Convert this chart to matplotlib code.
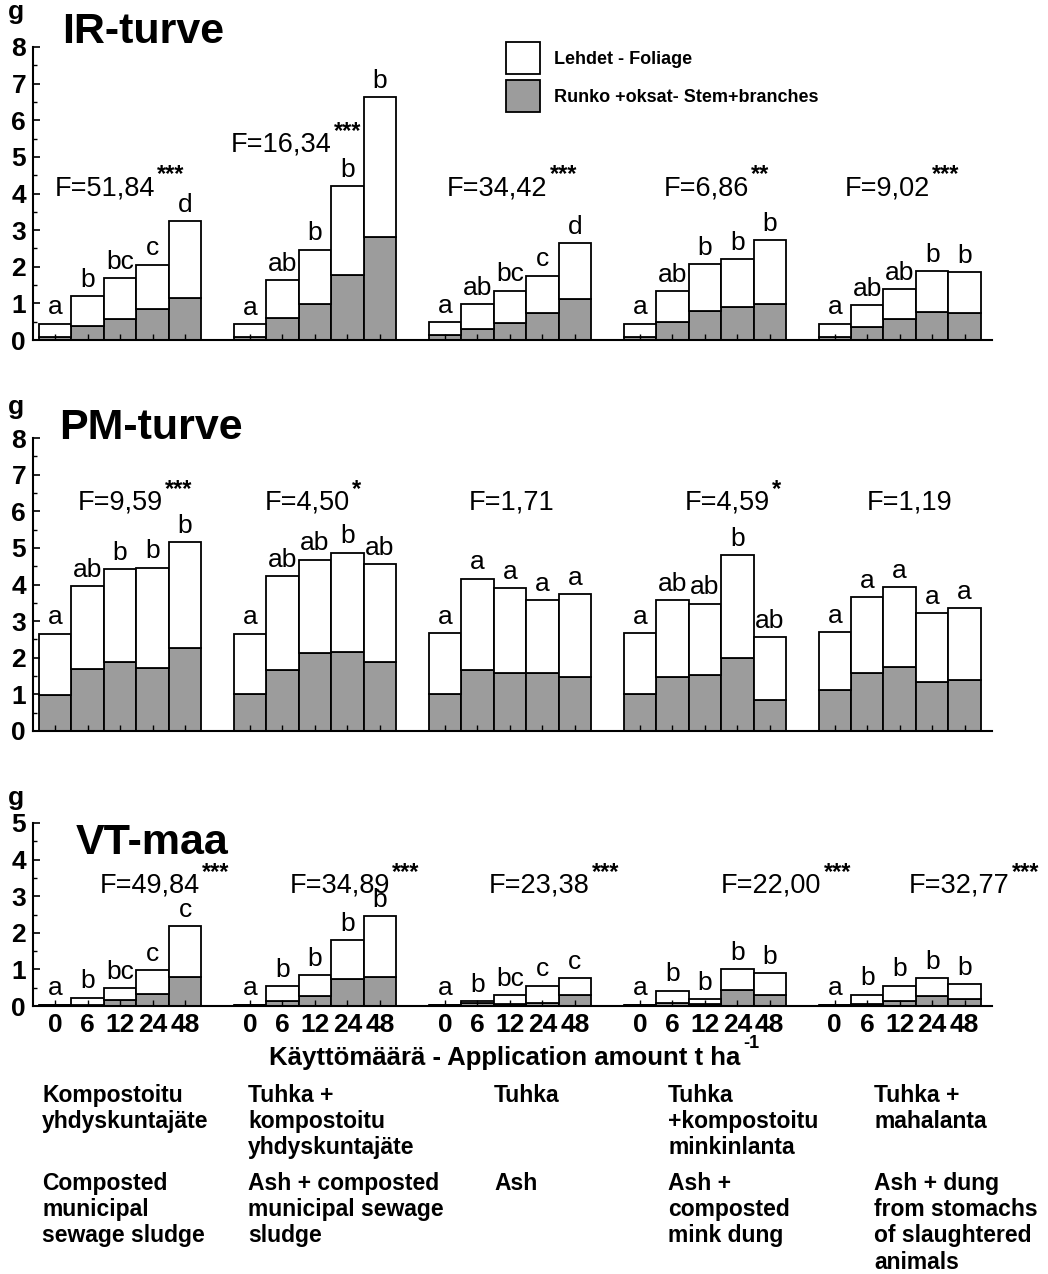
import matplotlib.pyplot as plt
from matplotlib.patches import Patch
from matplotlib.ticker import MultipleLocator

plt.rcParams['font.family'] = ['Liberation Sans', 'DejaVu Sans']

doses = ['0', '6', '12', '24', '48']

# total dry mass (foliage + stem) and stem part, g, per treatment group x dose
ir_total = [[0.45, 1.20, 1.69, 2.06, 3.25],
            [0.44, 1.64, 2.47, 4.21, 6.64],
            [0.48, 0.98, 1.35, 1.76, 2.64],
            [0.45, 1.34, 2.07, 2.20, 2.73],
            [0.45, 0.96, 1.38, 1.89, 1.86]]
ir_stem = [[0.08, 0.38, 0.57, 0.85, 1.14],
           [0.09, 0.59, 0.97, 1.77, 2.82],
           [0.14, 0.29, 0.47, 0.75, 1.12],
           [0.09, 0.50, 0.80, 0.91, 0.98],
           [0.09, 0.35, 0.57, 0.77, 0.75]]
ir_letters = [['a', 'b', 'bc', 'c', 'd'],
              ['a', 'ab', 'b', 'b', 'b'],
              ['a', 'ab', 'bc', 'c', 'd'],
              ['a', 'ab', 'b', 'b', 'b'],
              ['a', 'ab', 'ab', 'b', 'b']]
ir_f = ['51,84', '16,34', '34,42', '6,86', '9,02']
ir_sig = ['***', '***', '***', '**', '***']

pm_total = [[2.66, 3.95, 4.41, 4.46, 5.16],
            [2.66, 4.23, 4.68, 4.87, 4.55],
            [2.68, 4.16, 3.91, 3.57, 3.73],
            [2.68, 3.57, 3.48, 4.81, 2.57],
            [2.70, 3.66, 3.93, 3.22, 3.36]]
pm_stem = [[0.99, 1.68, 1.88, 1.73, 2.27],
           [1.01, 1.67, 2.14, 2.16, 1.88],
           [1.01, 1.67, 1.58, 1.57, 1.47],
           [1.01, 1.47, 1.52, 1.99, 0.86],
           [1.11, 1.58, 1.75, 1.34, 1.40]]
pm_letters = [['a', 'ab', 'b', 'b', 'b'],
              ['a', 'ab', 'ab', 'b', 'ab'],
              ['a', 'a', 'a', 'a', 'a'],
              ['a', 'ab', 'ab', 'b', 'ab'],
              ['a', 'a', 'a', 'a', 'a']]
pm_f = ['9,59', '4,50', '1,71', '4,59', '1,19']
pm_sig = ['***', '*', '', '*', '']

vt_total = [[0.04, 0.23, 0.50, 0.98, 2.18],
            [0.04, 0.55, 0.85, 1.79, 2.46],
            [0.04, 0.14, 0.30, 0.56, 0.77],
            [0.04, 0.42, 0.18, 1.02, 0.89],
            [0.04, 0.31, 0.56, 0.77, 0.61]]
vt_stem = [[0.02, 0.03, 0.16, 0.32, 0.80],
           [0.02, 0.15, 0.27, 0.74, 0.80],
           [0.02, 0.07, 0.05, 0.09, 0.30],
           [0.02, 0.08, 0.06, 0.44, 0.29],
           [0.02, 0.06, 0.15, 0.26, 0.18]]
vt_letters = [['a', 'b', 'bc', 'c', 'c'],
              ['a', 'b', 'b', 'b', 'b'],
              ['a', 'b', 'bc', 'c', 'c'],
              ['a', 'b', 'b', 'b', 'b'],
              ['a', 'b', 'b', 'b', 'b']]
vt_f = ['49,84', '34,89', '23,38', '22,00', '32,77']
vt_sig = ['***', '***', '***', '***', '***']

fi_names = ['Kompostoitu\nyhdyskuntajäte', 'Tuhka +\nkompostoitu\nyhdyskuntajäte',
            'Tuhka', 'Tuhka\n+kompostoitu\nminkinlanta', 'Tuhka +\nmahalanta']
en_names = ['Composted\nmunicipal\nsewage sludge', 'Ash + composted\nmunicipal sewage\nsludge',
            'Ash', 'Ash +\ncomposted\nmink dung',
            'Ash + dung\nfrom stomachs\nof slaughtered\nanimals']

# layout (pixels of a 1048x1274 canvas)
W, H = 1048, 1274


def fx(px):
    return px / W


def fy(py):
    return 1 - py / H


panels = [
    dict(title='IR-turve', total=ir_total, stem=ir_stem, letters=ir_letters, f=ir_f, sig=ir_sig,
         top=47, bottom=340, ymax=8, title_xy=(62, 32), g_y=12,
         f_x=[3.07, 8.52, 15.16, 21.35, 26.92], f_y=[4.15, 5.33, 4.15, 4.15, 4.15]),
    dict(title='PM-turve', total=pm_total, stem=pm_stem, letters=pm_letters, f=pm_f, sig=pm_sig,
         top=438, bottom=731, ymax=8, title_xy=(59, 428), g_y=407,
         f_x=[3.32, 9.07, 15.38, 21.99, 27.62], f_y=[6.23] * 5),
    dict(title='VT-maa', total=vt_total, stem=vt_stem, letters=vt_letters, f=vt_f, sig=vt_sig,
         top=823, bottom=1006, ymax=5, title_xy=(76, 843), g_y=798,
         f_x=[4.45, 10.30, 16.45, 23.59, 29.38], f_y=[3.30] * 5),
]

stem_color = '#9c9c9c'
fig = plt.figure(figsize=(W / 100, H / 100), dpi=100)

axes = []
for p in panels:
    ax = fig.add_axes([fx(33), fy(p['bottom']), fx(992) - fx(33), (p['bottom'] - p['top']) / H])
    axes.append(ax)
    for g in range(5):
        xs = [g * 6 + k for k in range(5)]
        stem = p['stem'][g]
        fol = [t - s for t, s in zip(p['total'][g], stem)]
        ax.bar(xs, stem, width=1, color=stem_color, edgecolor='black', linewidth=1.3)
        ax.bar(xs, fol, bottom=stem, width=1, color='white', edgecolor='black', linewidth=1.3)
        for x, t, lab in zip(xs, p['total'][g], p['letters'][g]):
            ax.annotate(lab, (x, t), xytext=(0, 3), textcoords='offset points',
                        ha='center', va='bottom', fontsize=19)
        ft = ax.text(p['f_x'][g], p['f_y'][g], 'F=' + p['f'][g], ha='right', va='center',
                     fontsize=19.5)
        if p['sig'][g]:
            ax.annotate(p['sig'][g], xy=(1, 1.0), xycoords=ft, xytext=(1.5, 0),
                        textcoords='offset points', ha='left', va='center',
                        fontsize=17, fontweight='bold', annotation_clip=False)

    ax.set_xlim(-0.68, 28.84)
    ax.set_ylim(0, p['ymax'])
    ax.spines[['top', 'right']].set_visible(False)
    ax.spines[['left', 'bottom']].set_linewidth(1.5)
    ax.set_yticks(range(p['ymax'] + 1), [str(i) for i in range(p['ymax'] + 1)],
                  fontsize=19, fontweight='bold')
    ax.yaxis.set_minor_locator(MultipleLocator(0.5))
    ax.tick_params(axis='y', which='major', direction='in', length=5, width=1.2, pad=5)
    ax.tick_params(axis='y', which='minor', direction='in', length=3, width=1)
    ax.set_xticks([g * 6 + k for g in range(5) for k in range(5)])
    ax.tick_params(axis='x', direction='in', length=4, width=1)
    ax.set_xticklabels([])

    fig.text(fx(p['title_xy'][0]), fy(p['title_xy'][1]), p['title'], ha='left', va='center',
             fontsize=31, fontweight='bold')
    fig.text(fx(16), fy(p['g_y']), 'g', ha='center', va='center', fontsize=19, fontweight='bold')

axes[2].set_xticklabels(doses * 5, fontsize=19, fontweight='bold')
axes[2].tick_params(axis='x', pad=5)

axes[0].legend(handles=[Patch(facecolor='white', edgecolor='black', linewidth=1.3),
                        Patch(facecolor=stem_color, edgecolor='black', linewidth=1.3)],
               labels=['Lehdet - Foliage', 'Runko +oksat- Stem+branches'],
               loc='upper left', bbox_to_anchor=(fx(506), fy(42)), bbox_transform=fig.transFigure,
               frameon=False, borderpad=0, borderaxespad=0, handlelength=1.88, handleheight=2.35,
               handletextpad=0.77, labelspacing=0.35, prop=dict(size=13, weight='bold'))

xl = fig.text(fx(505), fy(1058), 'Käyttömäärä - Application amount t ha', ha='center',
              va='center', fontsize=18.5, fontweight='bold')
axes[2].annotate('-1', xy=(1, 0.75), xycoords=xl, xytext=(2, 0), textcoords='offset points',
                 ha='left', va='bottom', fontsize=13, fontweight='bold', annotation_clip=False)

name_x = [42, 248, 494, 668, 874]
for x, fi, en in zip(name_x, fi_names, en_names):
    fig.text(fx(x), fy(1084), fi, ha='left', va='top', fontsize=16.5, fontweight='bold',
             linespacing=1.18)
    fig.text(fx(x), fy(1172), en, ha='left', va='top', fontsize=16.5, fontweight='bold',
             linespacing=1.18)

fig.savefig('out.png', dpi=100)
